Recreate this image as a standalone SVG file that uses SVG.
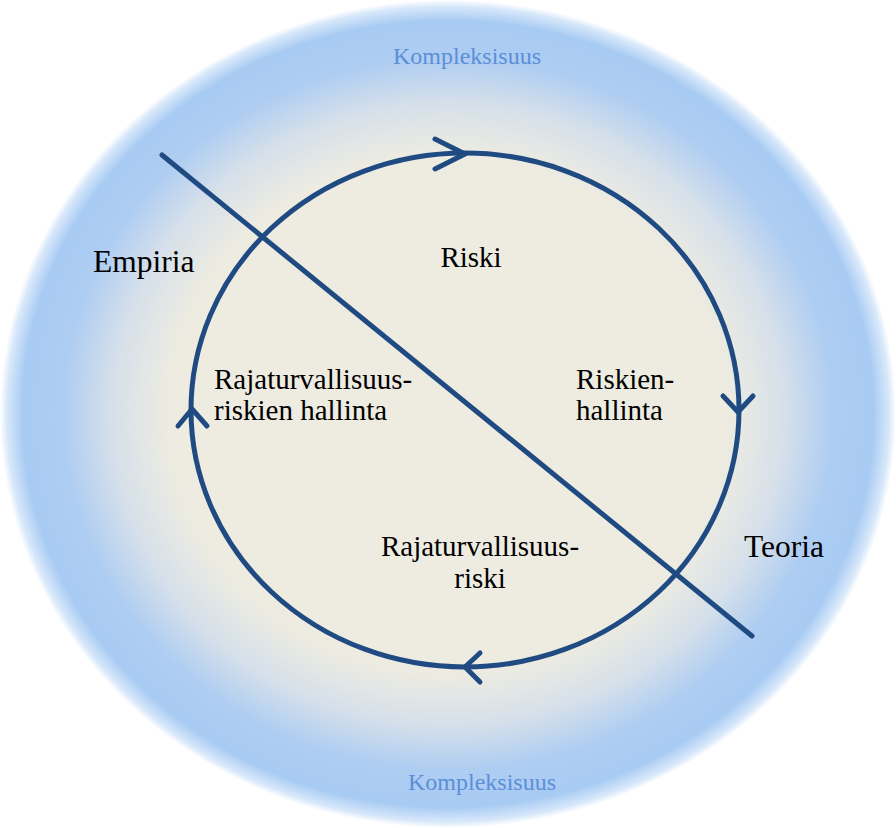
<svg xmlns="http://www.w3.org/2000/svg" width="896" height="828" viewBox="0 0 896 828">
<defs>
<radialGradient id="bg" cx="0.5" cy="0.5" r="0.5">
<stop offset="0" stop-color="#EEECE1"/>
<stop offset="0.62" stop-color="#EEECE1"/>
<stop offset="0.75" stop-color="#D6E0EA"/>
<stop offset="0.86" stop-color="#AECDF2"/>
<stop offset="0.95" stop-color="#A8CBF3"/>
<stop offset="0.985" stop-color="#D8E8FA"/>
<stop offset="1" stop-color="#FFFFFF"/>
</radialGradient>
<style>
.ln{fill:none;stroke:#1F4B82;stroke-width:5;stroke-linecap:round;stroke-linejoin:round}
.t{font-family:"Liberation Serif","Times New Roman",serif;fill:#000;font-size:29px}
.b{font-size:31.5px}
.k{font-family:"Liberation Serif","Times New Roman",serif;fill:#5B8FD8;font-size:24px}
</style>
</defs>
<rect width="896" height="828" fill="#FFFFFF"/>
<ellipse id="background" cx="448" cy="414" rx="448" ry="414" fill="url(#bg)"/>
<g id="connectors">
<ellipse class="ln" cx="465" cy="410" rx="274" ry="257"/>
<line class="ln" x1="162" y1="155" x2="752" y2="636"/>
<polyline class="ln" points="435,139 465,154 435,169"/>
<polyline class="ln" points="723,396 738,412 753,396"/>
<polyline class="ln" points="178,426 192,409 207,426"/>
<polyline class="ln" points="480,653 465,667 480,682"/>
</g>
<g id="kompleksisuus-top"><text class="k" x="467" y="64" text-anchor="middle">Kompleksisuus</text></g>
<g id="kompleksisuus-bottom"><text class="k" x="482" y="790" text-anchor="middle">Kompleksisuus</text></g>
<g id="empiria"><text class="t b" x="93" y="272">Empiria</text></g>
<g id="teoria"><text class="t b" x="744" y="557">Teoria</text></g>
<g id="riski"><text class="t" x="471" y="267" text-anchor="middle">Riski</text></g>
<g id="riskienhallinta"><text class="t" x="576" y="389">Riskien-</text><text class="t" x="576" y="420">hallinta</text></g>
<g id="rajaturvallisuusriskien-hallinta"><text class="t" x="214" y="389">Rajaturvallisuus-</text><text class="t" x="214" y="420">riskien hallinta</text></g>
<g id="rajaturvallisuusriski"><text class="t" x="480" y="556" text-anchor="middle">Rajaturvallisuus-</text><text class="t" x="480" y="588" text-anchor="middle">riski</text></g>
</svg>
